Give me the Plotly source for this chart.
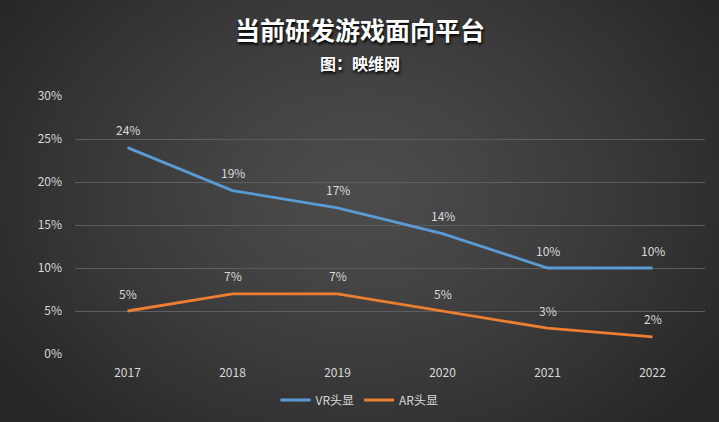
import base64, struct, zlib
import numpy as np
import plotly.graph_objects as go

years = ["2017", "2018", "2019", "2020", "2021", "2022"]
vr_values = [0.24, 0.19, 0.17, 0.14, 0.10, 0.10]
ar_values = [0.05, 0.07, 0.07, 0.05, 0.03, 0.02]
vr_labels = ["24%", "19%", "17%", "14%", "10%", "10%"]
ar_labels = ["5%", "7%", "7%", "5%", "3%", "2%"]
y_ticks = [0, 0.05, 0.10, 0.15, 0.20, 0.25, 0.30]
y_ticktext = ["0%", "5%", "10%", "15%", "20%", "25%", "30%"]

W, H = 719, 422
L, R, T, B = 75, 14, 96, 68


def make_png(arr):
    h, w, _ = arr.shape
    raw = b"".join(b"\x00" + arr[i].tobytes() for i in range(h))

    def chunk(tag, data):
        c = struct.pack(">I", len(data)) + tag + data
        return c + struct.pack(">I", zlib.crc32(tag + data) & 0xFFFFFFFF)

    png = b"\x89PNG\r\n\x1a\n"
    png += chunk(b"IHDR", struct.pack(">IIBBBBB", w, h, 8, 2, 0, 0, 0))
    png += chunk(b"IDAT", zlib.compress(raw, 9))
    png += chunk(b"IEND", b"")
    return "data:image/png;base64," + base64.b64encode(png).decode()


gw, gh = 180, 106
xx, yy = np.meshgrid(np.linspace(0, 1, gw), np.linspace(0, 1, gh))
r = np.sqrt(((xx - 0.5) / 0.62) ** 2 + ((yy - 0.45) / 0.8) ** 2)
r = np.clip(r, 0, 1)
val = 76 - (76 - 38) * r ** 1.3
img = np.repeat(val[:, :, None], 3, axis=2).astype(np.uint8)
bg_src = make_png(img)

pw, ph = W - L - R, H - T - B

fig = go.Figure()
fig.add_trace(go.Scatter(
    x=years, y=vr_values, name="VR头显", mode="lines",
    line=dict(color="#5b9bd5", width=2.8), hoverinfo="skip"))
fig.add_trace(go.Scatter(
    x=years, y=ar_values, name="AR头显", mode="lines",
    line=dict(color="#ed7d31", width=2.8), hoverinfo="skip"))

label_annots = []
for ys, ts in ((vr_values, vr_labels), (ar_values, ar_labels)):
    for i, (yv, tv) in enumerate(zip(ys, ts)):
        label_annots.append(dict(x=i, y=yv, text=tv, showarrow=False,
                                 xref="x", yref="y", yshift=18,
                                 font=dict(size=12, color="#d9d9d9")))

fig.update_layout(
    width=W, height=H,
    margin=dict(l=L, r=R, t=T, b=B, autoexpand=False),
    paper_bgcolor="#333333",
    plot_bgcolor="rgba(0,0,0,0)",
    font=dict(family="Noto Sans CJK SC, sans-serif", color="#d9d9d9", size=11),
    images=[dict(source=bg_src, xref="paper", yref="paper",
                 x=-L / pw, y=1 + T / ph, sizex=W / pw, sizey=H / ph,
                 xanchor="left", yanchor="top", sizing="stretch", layer="below")],
    annotations=[
        dict(text="<b>当前研发游戏面向平台</b>", xref="paper", yref="paper",
             x=(W / 2 - L) / pw, y=1 + (T - 29) / ph, xanchor="center", yanchor="middle",
             showarrow=False,
             font=dict(size=25, color="#ffffff", family="Noto Sans CJK SC",
                       shadow="1px 2px 3px #000000")),
        dict(text="<b>图：映维网</b>", xref="paper", yref="paper",
             x=(W / 2 - L) / pw, y=1 + (T - 63) / ph, xanchor="center", yanchor="middle",
             showarrow=False,
             font=dict(size=16, color="#ffffff", family="Noto Sans CJK SC",
                       shadow="1px 2px 3px #000000")),
    ] + label_annots,
    showlegend=True,
    legend=dict(orientation="h", x=(W / 2 - L) / pw, xanchor="center",
                y=-(400 - (H - B)) / ph, yanchor="middle",
                font=dict(size=12, color="#d9d9d9"),
                bgcolor="rgba(0,0,0,0)", itemwidth=30),
    xaxis=dict(type="category", showgrid=False, zeroline=False, showline=False,
               ticks="", tickfont=dict(size=12, color="#d9d9d9"),
               ticklabelstandoff=10,
               range=[-0.5, 5.5], fixedrange=True),
    yaxis=dict(range=[0, 0.30], tickvals=y_ticks, ticktext=y_ticktext,
               showgrid=True, gridcolor="#5e5e5e", gridwidth=1,
               zeroline=False, showline=False, ticks="",
               ticklabelstandoff=12,
               tickfont=dict(size=12, color="#d9d9d9"), fixedrange=True),
)

fig.write_html("out.html")
